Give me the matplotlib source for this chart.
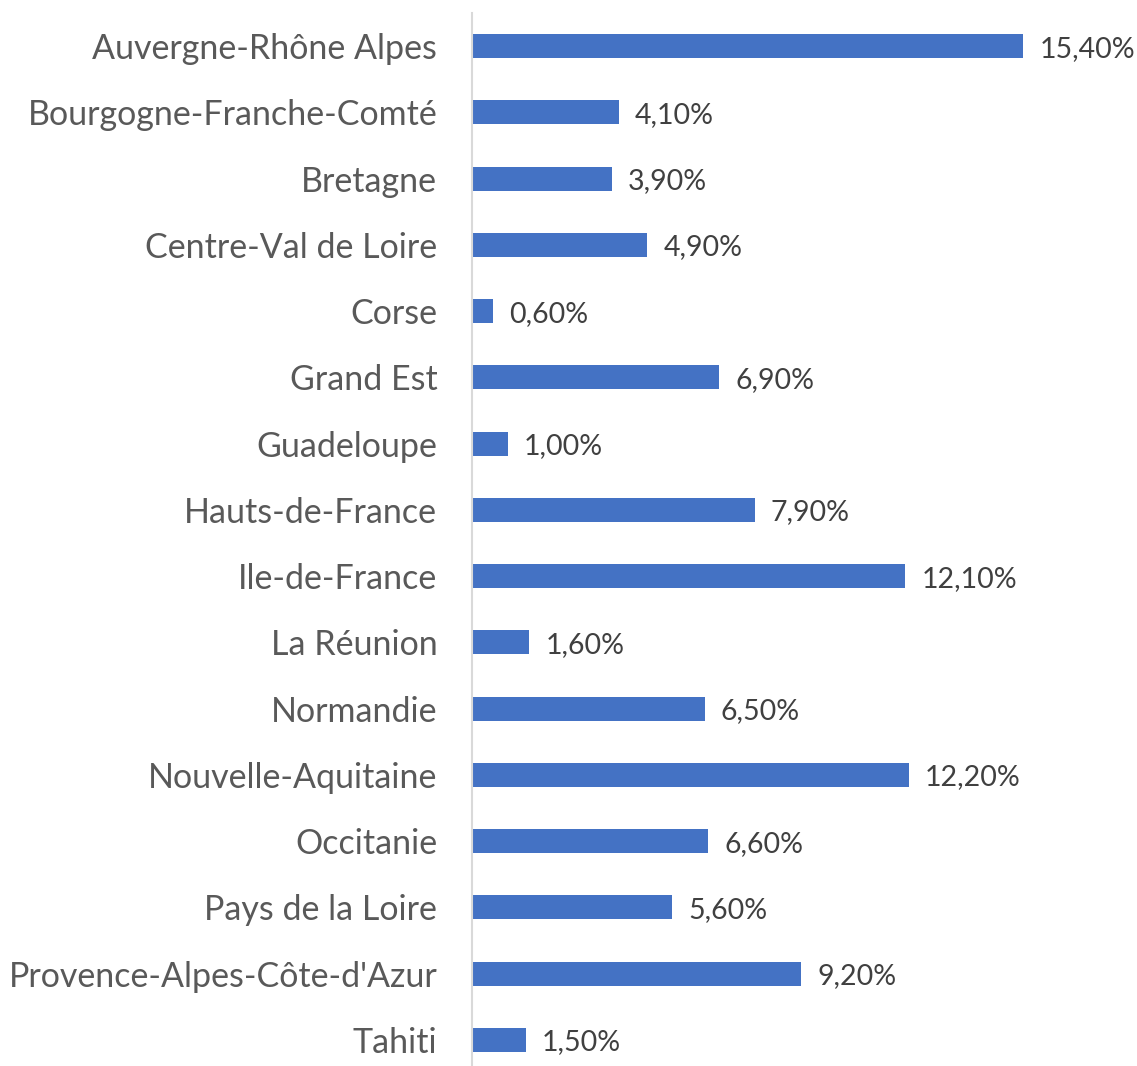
import matplotlib
matplotlib.use('Agg')
import matplotlib.pyplot as plt

# Regional share (%) per region
regions = [
    "Auvergne-Rhône Alpes", "Bourgogne-Franche-Comté", "Bretagne",
    "Centre-Val de Loire", "Corse", "Grand Est", "Guadeloupe",
    "Hauts-de-France", "Ile-de-France", "La Réunion", "Normandie",
    "Nouvelle-Aquitaine", "Occitanie", "Pays de la Loire",
    "Provence-Alpes-Côte-d'Azur", "Tahiti",
]
shares = [15.4, 4.1, 3.9, 4.9, 0.6, 6.9, 1.0, 7.9, 12.1, 1.6, 6.5,
          12.2, 6.6, 5.6, 9.2, 1.5]

plt.rcParams['font.family'] = ['Lato', 'DejaVu Sans']

fig = plt.figure(figsize=(11.37, 10.66), dpi=100)
ax = fig.add_axes([472 / 1137, -7 / 1066, 1 - 472 / 1137, 1060 / 1066])

y = list(range(len(regions)))
ax.barh(y, shares, height=0.36, color='#4472C4')
ax.set_ylim(len(regions) - 0.5, -0.5)
ax.set_xlim(0, (1137 - 472) / 35.8)

for yi, v in zip(y, shares):
    ax.text(v + 0.45, yi, f"{v:.2f}%".replace('.', ','), va='center_baseline',
            ha='left', fontsize=20.5, color='#404040')

ax.set_yticks(y)
ax.set_yticklabels(regions, fontsize=24.5, color='#595959',
                   va='center_baseline')
ax.tick_params(axis='y', length=0, pad=25)
ax.set_xticks([])
for s in ['top', 'right', 'bottom']:
    ax.spines[s].set_visible(False)
ax.spines['left'].set_color('#D9D9D9')
ax.spines['left'].set_linewidth(1.5)

fig.savefig('out.png', dpi=100)
